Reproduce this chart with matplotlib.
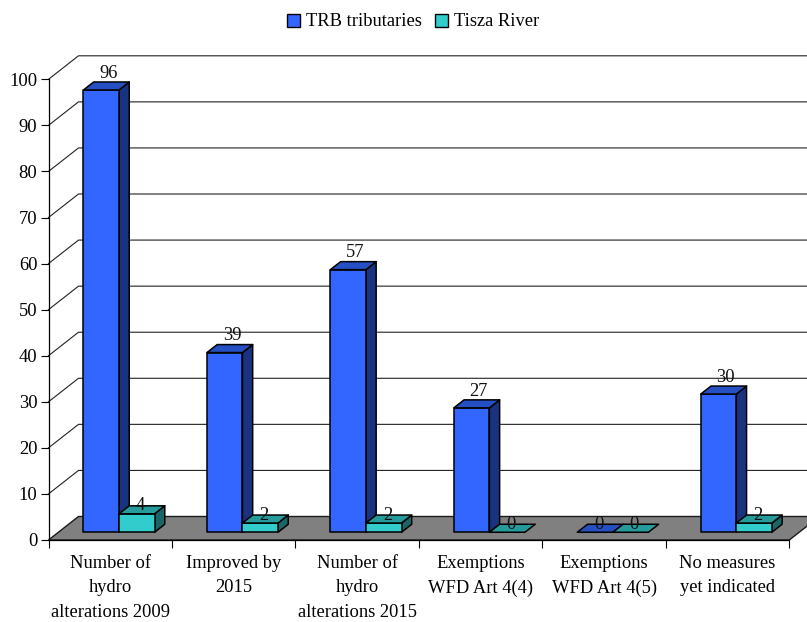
import matplotlib
matplotlib.use("Agg")
import matplotlib.pyplot as plt
from matplotlib.patches import Polygon, Rectangle

categories = ["Number of\nhydro\nalterations 2009", "Improved by\n2015", "Number of\nhydro\nalterations 2015",
              "Exemptions\nWFD Art 4(4)", "Exemptions\nWFD Art 4(5)", "No measures\nyet indicated"]
trb = [96, 39, 57, 27, 0, 30]
tisza = [4, 2, 2, 0, 0, 2]
series_names = ["TRB tributaries", "Tisza River"]
yticks = list(range(0, 101, 10))

W, H = 807, 622
plt.rcParams["font.family"] = ["Liberation Serif", "DejaVu Serif"]
FS = 13.3
fig = plt.figure(figsize=(W / 100, H / 100), dpi=100)
L, R, T, B = 48.5, 789.3, 79.3, 540.0
ax = fig.add_axes([L / W, 1 - B / H, (R - L) / W, (B - T) / H])
ax.set_xlim(0, 6)
ax.set_ylim(0, 100)
ax.patch.set_visible(False)

ux = (R - L) / 6      # px per category
uy = (B - T) / 100    # px per value unit
DX, DY = 30.0, 23.5   # wall depth in px


def pr(x, y, d):
    """Project (category x, value y, depth d 0..1) to the axes' data plane."""
    return (x + d * DX / ux, y + d * DY / uy)


# walls
for v in yticks[1:]:
    pts = [pr(0, v, 0), pr(0, v, 1), pr(6, v, 1)]
    ax.plot(*zip(*pts), color="#222222", lw=0.8, clip_on=False, zorder=1)

# floor
ax.add_patch(Polygon([pr(0, 0, 0), pr(6, 0, 0), pr(6, 0, 1), pr(0, 0, 1)], closed=True, fc="#808080",
                     ec="#1a1a1a", lw=1.0, clip_on=False, zorder=2))

GAP, BW = 0.203, 0.288
D0, D1 = 0.33, 0.67
styles = [("#3366FF", "#2450C4", "#1A3380"), ("#33CCCC", "#269B9B", "#1A6666")]


def bar(x0, x1, v, st, z):
    front, top, side = st
    kw = dict(closed=True, ec="black", lw=1.1, clip_on=False, zorder=z, joinstyle="round")
    if v > 0:
        ax.add_patch(Polygon([pr(x1, 0, D0), pr(x1, 0, D1), pr(x1, v, D1), pr(x1, v, D0)], fc=side, **kw))
        ax.add_patch(Polygon([pr(x0, 0, D0), pr(x1, 0, D0), pr(x1, v, D0), pr(x0, v, D0)], fc=front, **kw))
    ax.add_patch(Polygon([pr(x0, v, D0), pr(x1, v, D0), pr(x1, v, D1), pr(x0, v, D1)], fc=top, **kw))


z = 3
for i in range(len(categories)):
    for j, vals in enumerate((trb, tisza)):
        x0 = i + GAP + j * BW
        bar(x0, x0 + BW, vals[i], styles[j], z)
        z += 1

for i in range(len(categories)):
    for j, vals in enumerate((trb, tisza)):
        v = vals[i]
        tall = v >= 10
        xc = i + GAP + (j + 0.5) * BW
        ax.annotate(str(v), xy=pr(xc, v, 0.57 if tall else 0.45), xytext=(0, 4.75 if tall else 0.5),
                    textcoords="offset points", ha="center", va="baseline", fontsize=FS,
                    color="#111111", annotation_clip=False, zorder=60)

# axes
for s in ("top", "right"):
    ax.spines[s].set_visible(False)
for s in ("left", "bottom"):
    ax.spines[s].set_linewidth(0.9)
    ax.spines[s].set_zorder(50)
ax.set_yticks(yticks)
ax.set_xticks(range(7))
ax.set_xticklabels([])
ax.set_xticks([i + 0.5 for i in range(6)], minor=True)
ax.set_xticklabels(categories, minor=True, fontsize=FS, linespacing=1.58, ha="center", va="top")
ax.tick_params(axis="x", which="major", length=6, width=0.8)
ax.tick_params(axis="x", which="minor", length=0, pad=10.5)
ax.tick_params(axis="y", length=6, width=0.8, labelsize=FS, pad=2)

handles = [Rectangle((0, 0), 1, 1, fc=styles[k][0], ec="black", lw=1.0) for k in range(2)]
fig.legend(handles, series_names, loc="center", bbox_to_anchor=(413 / W, 1 - 22 / H), ncol=2, frameon=False,
           fontsize=FS, handlelength=0.7, handleheight=0.7, handletextpad=0.34, columnspacing=0.68)

fig.savefig("out.png", dpi=100)
